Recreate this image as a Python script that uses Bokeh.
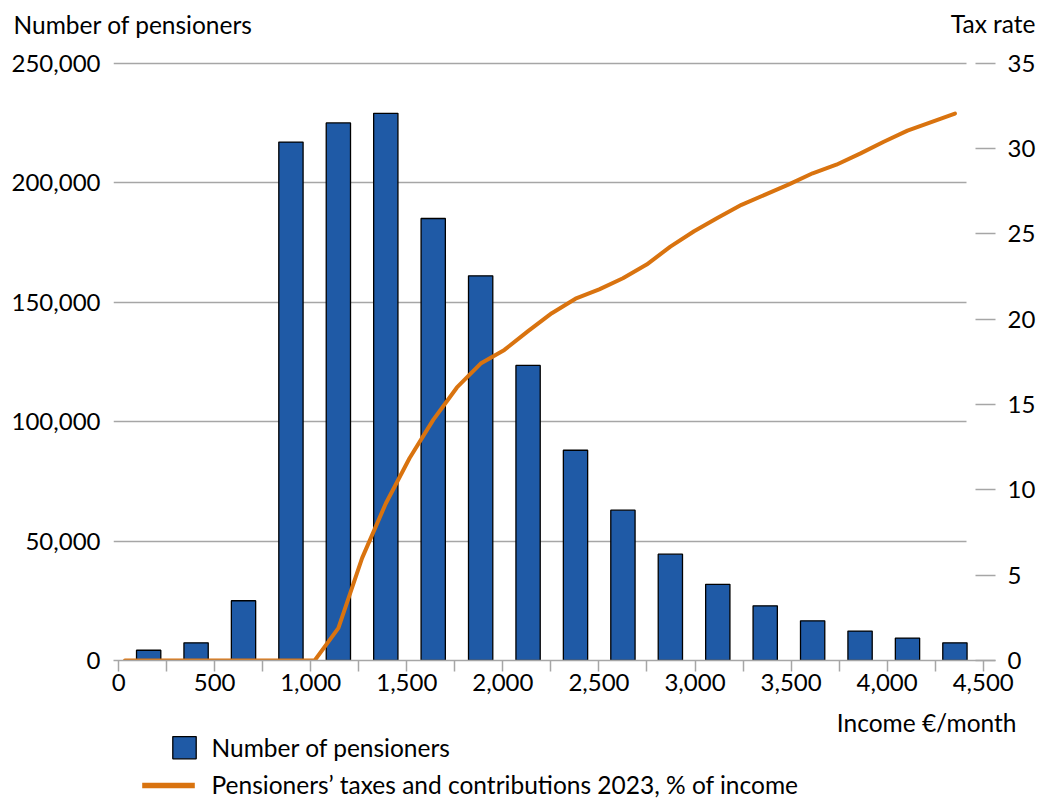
from bokeh.plotting import figure
from bokeh.layouts import column
from bokeh.models import (Range1d, LinearAxis, NumeralTickFormatter, FixedTicker)
from bokeh.core.properties import value
from bokeh.embed import file_html
from bokeh.resources import INLINE

# ---------------- data ----------------
bin_centers = [125, 375, 625, 875, 1125, 1375, 1625, 1875, 2125, 2375,
               2625, 2875, 3125, 3375, 3625, 3875, 4125, 4375]
pensioners = [4300, 7400, 25000, 217000, 225000, 229000, 185000, 161000, 123500,
              88000, 62900, 44500, 31900, 22900, 16600, 12300, 9400, 7400]

income_points = [0, 125, 250, 375, 500, 625, 750, 875, 1000, 1125, 1250, 1375,
                 1500, 1625, 1750, 1875, 2000, 2125, 2250, 2375, 2500, 2625,
                 2750, 2875, 3000, 3125, 3250, 3375, 3500, 3625, 3750, 3875,
                 4000, 4125, 4250, 4375]
tax_rate = [0, 0, 0, 0, 0, 0, 0, 0, 0, 1.9, 6.0, 9.2,
            11.85, 14.1, 16.0, 17.4, 18.2, 19.3, 20.35, 21.2, 21.75, 22.4,
            23.2, 24.25, 25.15, 25.95, 26.7, 27.3, 27.9, 28.55, 29.05, 29.7,
            30.4, 31.05, 31.55, 32.05]

x_ticks = [0, 500, 1000, 1500, 2000, 2500, 3000, 3500, 4000, 4500]
x_minor = [250, 750, 1250, 1750, 2250, 2750, 3250, 3750, 4250]
y_ticks = [0, 50000, 100000, 150000, 200000, 250000]
rate_ticks = [0, 5, 10, 15, 20, 25, 30, 35]

left_title = "Number of pensioners"
right_title = "Tax rate"
x_title = "Income €/month"
bar_label = "Number of pensioners"
line_label = "Pensioners’ taxes and contributions 2023, % of income"

# ---------------- layout ----------------
W = 1038
TOP_H = 46           # strip with the axis titles
MAIN_H = 664         # main chart (frame from y=50 to y=660 on the page)
BOT_H = 798 - TOP_H - MAIN_H
BOT_Y = TOP_H + MAIN_H
L, R = 113, 996
FRAME_TOP = 50 - TOP_H
FRAME_BOTTOM = 660 - TOP_H
X0, X1 = -26.5, 4563.9          # income axis
BX0, BX1 = -60.34, 4588.9       # bins axis (bars + line)
Y0, Y1 = 0, 255316
RY1 = 35 * Y1 / 250000

FONT = "Lato"
FS = "24px"
FS_T = "24.5px"
TEXT_DY = -9.5
GRAY = "#a6a6a6"
BLUE = "#1f5aa6"
ORANGE = "#d9730f"


def strip(h):
    s = figure(width=W, height=h, x_range=Range1d(0, W), y_range=Range1d(h, 0),
               min_border=0, min_border_left=0, min_border_right=0,
               min_border_top=0, min_border_bottom=0,
               x_axis_location=None, y_axis_location=None,
               output_backend="svg", toolbar_location=None)
    s.frame_align = False
    s.xgrid.visible = False
    s.ygrid.visible = False
    s.outline_line_color = None
    return s


def put_text(s, txt, px, py, align):
    s.text(x=[px], y=[py + TEXT_DY], text=[txt], text_font=value(FONT),
           text_font_size=value(FS_T), text_color="black",
           text_align=align, text_baseline="alphabetic")


# ---- top strip: axis titles ----
top = strip(TOP_H)
put_text(top, left_title, 13, 33, "left")
put_text(top, right_title, 1035, 32, "right")

# ---- main chart ----
p = figure(width=W, height=MAIN_H, x_range=Range1d(X0, X1), y_range=Range1d(Y0, Y1),
           min_border_left=L, min_border_right=W - R, min_border_top=FRAME_TOP,
           min_border_bottom=MAIN_H - FRAME_BOTTOM, output_backend="svg",
           toolbar_location=None)
p.frame_align = False
p.extra_x_ranges = {"bins": Range1d(BX0, BX1)}
p.extra_y_ranges = {"rate": Range1d(0, RY1)}
p.outline_line_color = None

p.xgrid.visible = False
p.ygrid.ticker = FixedTicker(ticks=y_ticks)
p.ygrid.grid_line_color = GRAY
p.ygrid.grid_line_width = 1.3
p.ygrid.cross_bounds = (X0, X0 + (967 - L) / (R - L) * (X1 - X0))

xa = p.xaxis[0]
xa.ticker = FixedTicker(ticks=x_ticks, minor_ticks=x_minor)
xa.formatter = NumeralTickFormatter(format="0,0")
xa.axis_line_color = GRAY
xa.axis_line_width = 1.5
xa.major_tick_line_color = GRAY
xa.minor_tick_line_color = GRAY
xa.major_tick_line_width = 1.5
xa.minor_tick_line_width = 1.5
xa.major_tick_in = 0
xa.major_tick_out = 11
xa.minor_tick_in = 0
xa.minor_tick_out = 11
xa.major_label_standoff = 2
xa.major_label_text_font = FONT
xa.major_label_text_font_size = FS
xa.major_label_text_color = "black"

ya = p.yaxis[0]
ya.ticker = FixedTicker(ticks=y_ticks)
ya.formatter = NumeralTickFormatter(format="0,0")
ya.axis_line_color = None
ya.major_tick_line_color = None
ya.minor_tick_line_color = None
ya.major_tick_in = 0
ya.major_tick_out = 0
ya.minor_tick_out = 0
ya.major_label_standoff = 13
ya.major_label_text_font = FONT
ya.major_label_text_font_size = FS
ya.major_label_text_color = "black"

ra = LinearAxis(y_range_name="rate", ticker=FixedTicker(ticks=rate_ticks))
ra.axis_line_color = None
ra.major_tick_line_color = GRAY
ra.major_tick_line_width = 1.5
ra.major_tick_in = 20
ra.major_tick_out = 0
ra.minor_tick_line_color = None
ra.major_label_standoff = 12
ra.major_label_text_font = FONT
ra.major_label_text_font_size = FS
ra.major_label_text_color = "black"
p.add_layout(ra, "right")

p.vbar(x=bin_centers, top=pensioners, width=128, bottom=0,
       x_range_name="bins", fill_color=BLUE, line_color="black", line_width=1.3)
p.line(x=income_points, y=tax_rate, x_range_name="bins",
       y_range_name="rate", line_color=ORANGE, line_width=4,
       line_join="round", line_cap="round")

# ---- bottom strip: x title and legend ----
bot = strip(BOT_H)
put_text(bot, x_title, 1016, 731 - BOT_Y, "right")
# legend keys (page pixel positions, shifted into the strip)
bot.rect(x=[184], y=[747.2 - BOT_Y], width=23.4, height=22.3,
         fill_color=BLUE, line_color="black", line_width=1.3)
bot.segment(x0=[141.7], y0=[785 - BOT_Y], x1=[194.3], y1=[785 - BOT_Y],
            line_color=ORANGE, line_width=5.5)
put_text(bot, bar_label, 211, 756.7 - BOT_Y, "left")
put_text(bot, line_label, 211, 793 - BOT_Y, "left")

layout = column(top, p, bot, spacing=0)
open("out.html", "w").write(file_html(layout, INLINE))
